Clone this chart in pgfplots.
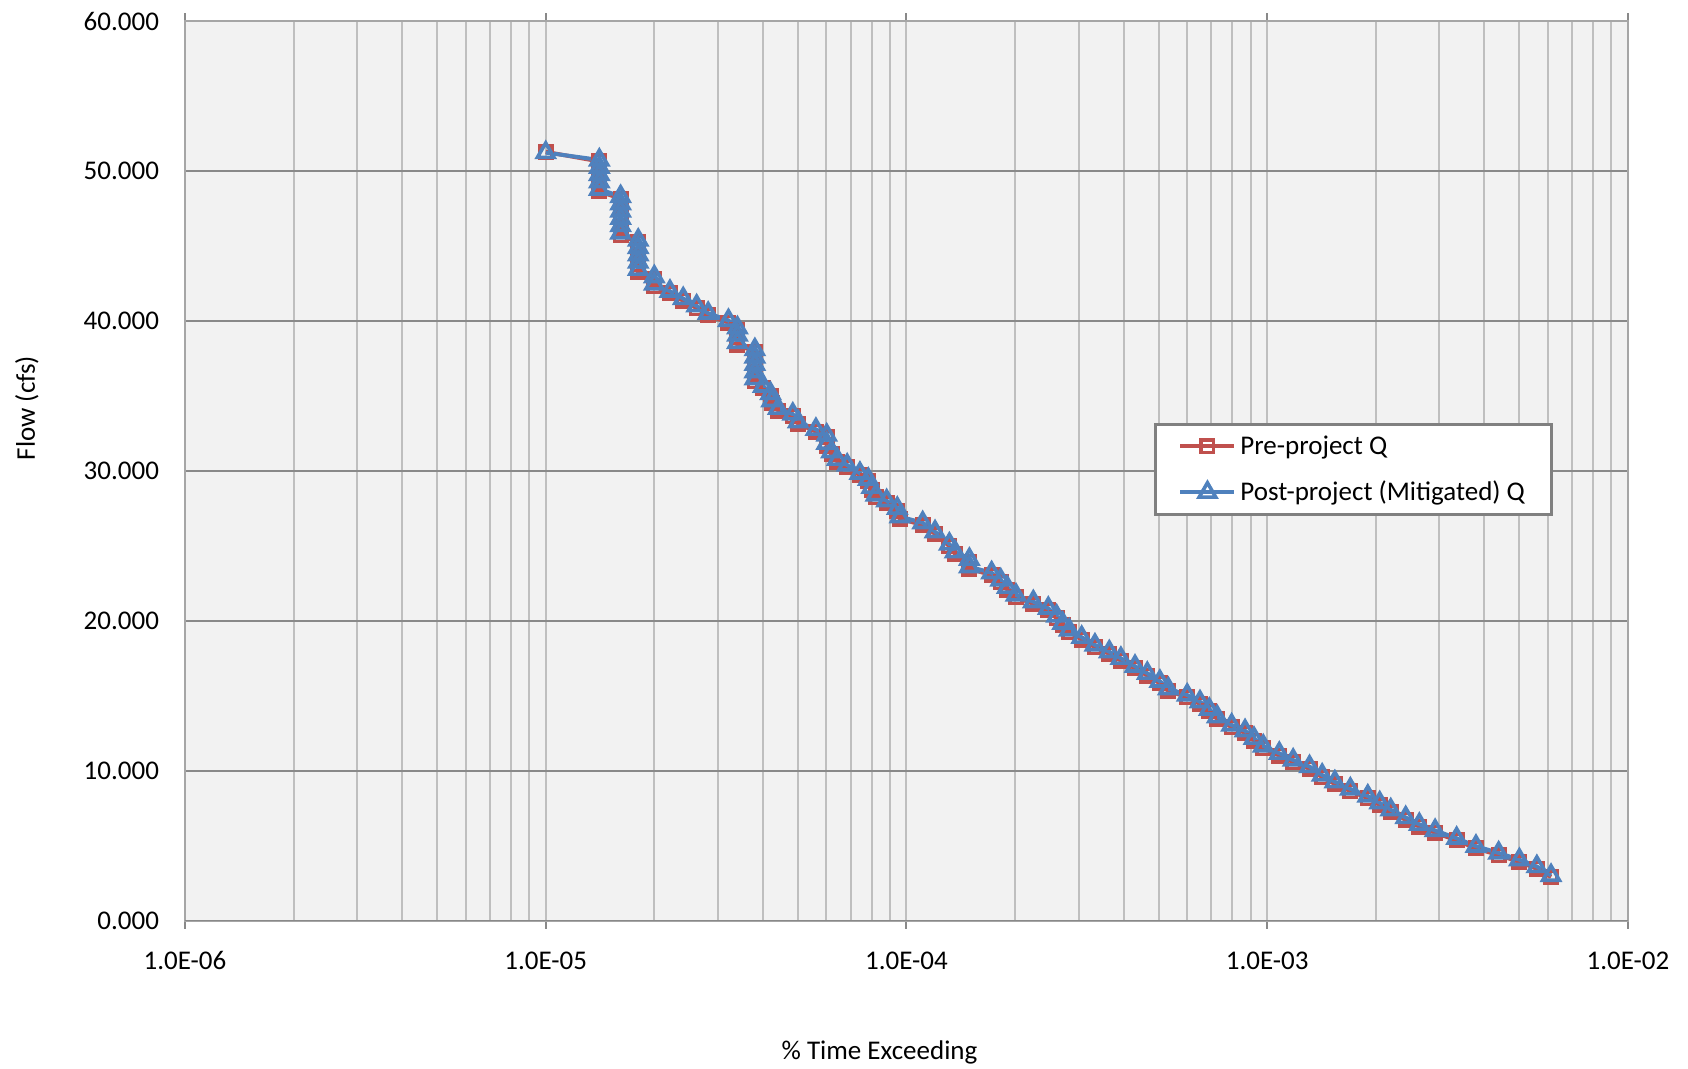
\documentclass[border=0pt]{standalone}
\usepackage{pgfplots}
\pgfplotsset{compat=1.18}
\usepackage{pgfplotstable}
\usepackage{fontspec}
\setmainfont{Carlito}
\definecolor{bgc}{HTML}{F2F2F2}
\definecolor{gridv}{HTML}{BFBFBF}
\definecolor{gridh}{HTML}{898989}
\definecolor{frame}{HTML}{A6A6A6}
\definecolor{legb}{HTML}{808080}
\definecolor{prered}{HTML}{C0504D}
\definecolor{postblue}{HTML}{4F81BD}
\newcommand{\cf}{\fontsize{13.5bp}{16bp}\selectfont}

\pgfplotstableread{
x post pre
1.0e-5 51.25 51.30
1.408e-5 50.76 50.66
1.408e-5 50.27 50.12
1.408e-5 49.79 49.64
1.408e-5 49.30 49.15
1.408e-5 48.81 48.66
1.613e-5 48.32 48.17
1.613e-5 47.84 47.69
1.613e-5 47.35 47.20
1.613e-5 46.86 46.71
1.613e-5 46.38 46.23
1.613e-5 45.89 45.74
1.805e-5 45.41 45.26
1.805e-5 44.92 44.77
1.805e-5 44.43 44.28
1.805e-5 43.94 43.79
1.805e-5 43.46 43.31
2.0e-5 42.97 42.82
2.0e-5 42.48 42.33
2.21e-5 42.00 41.85
2.405e-5 41.51 41.36
2.62e-5 41.02 40.87
2.82e-5 40.53 40.38
3.21e-5 40.05 39.90
3.40e-5 39.56 39.41
3.40e-5 39.07 38.92
3.40e-5 38.58 38.43
3.80e-5 38.10 37.95
3.80e-5 37.61 37.46
3.80e-5 37.12 36.97
3.80e-5 36.63 36.48
3.80e-5 36.15 36.00
4.01e-5 35.66 35.51
4.20e-5 35.17 35.02
4.23e-5 34.69 34.54
4.41e-5 34.18 34.03
4.84e-5 33.80 33.65
5.01e-5 33.29 33.14
5.61e-5 32.78 32.63
6.01e-5 32.40 32.25
6.01e-5 31.85 31.70
6.20e-5 31.29 31.14
6.43e-5 30.78 30.63
6.85e-5 30.40 30.25
7.43e-5 29.85 29.70
7.84e-5 29.45 29.30
8.01e-5 28.91 28.76
8.23e-5 28.40 28.25
8.81e-5 28.02 27.87
9.43e-5 27.51 27.36
9.59e-5 26.95 26.80
1.109e-4 26.55 26.40
1.20e-4 25.95 25.80
1.315e-4 25.13 24.98
1.364e-4 24.61 24.46
1.494e-4 24.11 23.96
1.494e-4 23.61 23.46
1.722e-4 23.21 23.06
1.825e-4 22.73 22.58
1.903e-4 22.24 22.09
2.012e-4 21.72 21.57
2.247e-4 21.28 21.13
2.472e-4 20.84 20.69
2.608e-4 20.32 20.17
2.710e-4 19.84 19.69
2.827e-4 19.39 19.24
3.06e-4 18.90 18.75
3.33e-4 18.39 18.24
3.65e-4 17.94 17.79
3.93e-4 17.50 17.35
4.30e-4 16.97 16.82
4.65e-4 16.50 16.35
5.04e-4 15.97 15.82
5.32e-4 15.47 15.32
6.00e-4 15.05 14.90
6.51e-4 14.60 14.45
6.91e-4 14.10 13.95
7.27e-4 13.60 13.45
7.97e-4 13.05 12.90
8.68e-4 12.67 12.52
9.19e-4 12.16 12.01
9.75e-4 11.65 11.50
1.08e-3 11.16 11.01
1.18e-3 10.71 10.56
1.31e-3 10.27 10.12
1.42e-3 9.71 9.56
1.54e-3 9.26 9.11
1.70e-3 8.78 8.63
1.90e-3 8.31 8.16
2.05e-3 7.86 7.71
2.20e-3 7.39 7.24
2.42e-3 6.87 6.72
2.64e-3 6.42 6.27
2.92e-3 6.01 5.86
3.35e-3 5.49 5.34
3.79e-3 4.96 4.81
4.38e-3 4.51 4.36
5.00e-3 4.06 3.91
5.59e-3 3.60 3.45
6.12e-3 3.01 2.90
}\flowdata

\begin{document}
\begin{tikzpicture}
\begin{semilogxaxis}[
  scale only axis,
  width=721.5bp, height=449.5bp,
  xmin=1e-6, xmax=1e-2, ymin=0, ymax=60,
  axis background/.style={fill=bgc},
  axis line style={color=frame, line width=1bp},
  xtick={1e-6,1e-5,1e-4,1e-3,1e-2},
  xticklabels={1.0E-06,1.0E-05,1.0E-04,1.0E-03,1.0E-02},
  ytick={0,10,20,30,40,50,60},
  yticklabels={0.000,10.000,20.000,30.000,40.000,50.000,60.000},
  xmajorgrids, xminorgrids, ymajorgrids,
  major grid style={color=gridv, line width=1bp},
  minor grid style={color=gridv, line width=1bp},
  y grid style={color=gridh, line width=1bp},
  x tick style={color=gridh, line width=1bp},
  xtick align=outside,
  major x tick style={color=gridh},
  major tick length=4bp,
  minor tick length=0pt,
  ytick style={draw=none},
  tick label style={font=\cf, color=black},
  xticklabel style={anchor=center, yshift=-16.1bp},
  yticklabel style={anchor=east, inner sep=0pt, xshift=-12.8bp},
  xlabel={\% Time Exceeding},
  ylabel={Flow (cfs)},
  xlabel style={font=\cf, anchor=center, at={(axis description cs:0.4813,-0.147)}},
  ylabel style={font=\cf, anchor=center, at={(axis description cs:-0.1095,0.570)}},
  legend style={at={(0.6715,0.5534)}, anchor=north west, draw=legb, line width=1.5bp,
    fill=white, font=\cf, inner xsep=11.5bp, inner ysep=3.5bp, row sep=8bp},
  legend cell align=left,
  legend image code/.code={\draw[mark repeat=2, mark phase=2] plot coordinates {(0bp,0bp) (13.5bp,0bp) (27bp,0bp)};},
]
\addplot[color=prered, line width=2bp, mark=square, mark size=3.1bp,
  mark options={fill=white, draw=prered, line width=1.8bp, solid}]
  table[x=x, y=pre] {\flowdata};
\addlegendentry{Pre-project Q}
\addplot[color=postblue, line width=2bp, mark=triangle, mark size=4.8bp,
  mark options={fill=white, draw=postblue, line width=1.8bp, solid}]
  table[x=x, y=post] {\flowdata};
\addlegendentry{Post-project (Mitigated) Q}
\draw[gridh, line width=1bp] (rel axis cs:0,0) -- (rel axis cs:1,0);
\end{semilogxaxis}
\pgfresetboundingbox
\path[use as bounding box] (-92.5bp,-74.25bp) rectangle (751.5bp,460.25bp);
\end{tikzpicture}
\end{document}
